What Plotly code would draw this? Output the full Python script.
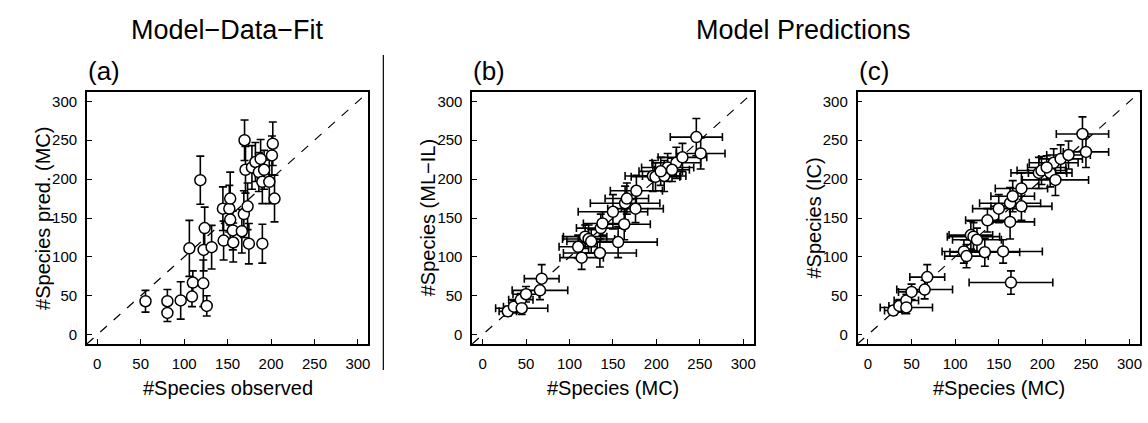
import plotly.graph_objects as go

# ---------------- data ----------------
# Panel (a): observed vs MC prediction (with y uncertainty)
a_obs = [55.5, 80.7, 80.7, 96, 109, 110, 106, 122, 126, 118.6, 123.6, 122.4, 131.6, 145.4,
         144.6, 152, 153, 153, 156, 156.5, 166.4, 168.7, 173, 169.5, 170.6, 174.5, 178, 182,
         186, 190, 190, 192, 198, 201, 202, 204, 188]
a_pred = [43, 43, 28, 44, 49, 67, 111, 66, 37, 198.6, 137, 109, 112.5, 121,
          162, 162, 175, 148, 134, 118.5, 133, 155, 165, 250, 212, 117, 215, 222,
          209, 196.5, 117, 212, 196.5, 230.5, 245.5, 175, 226]
a_err = [14, 15, 11, 24, 13, 15, 36, 30, 13, 31, 27, 27, 28, 25,
         28, 30, 34, 25, 25, 25, 28, 30, 30, 26, 30, 26, 28, 25,
         25, 28, 25, 25, 28, 25, 28, 30, 25]

# Panel (b): MC vs ML-IL
b_mc = [29, 36, 44, 45, 50, 66, 68, 110, 114, 118, 122, 135, 136, 138, 150, 156, 163, 164,
        166, 176, 177, 196, 199, 209, 213, 223, 230, 246, 251, 205, 218, 125]
b_ml = [30, 36, 45, 34, 52, 57, 72, 113, 99, 126, 123, 105, 137, 143, 158, 119, 142, 169,
        175, 162, 185, 204, 203, 204, 215, 221, 228, 254, 233, 210, 212, 120]
b_ex = [10, 12, 14, 30, 15, 32, 20, 22, 25, 25, 30, 42, 28, 22, 40, 45, 30, 40,
        25, 32, 30, 32, 28, 25, 30, 28, 28, 30, 28, 25, 20, 28]
b_ey = [6, 8, 8, 8, 10, 12, 18, 15, 15, 15, 18, 18, 18, 15, 22, 20, 20, 22,
        20, 18, 20, 20, 18, 20, 18, 20, 18, 24, 20, 18, 15, 15]

# Panel (c): MC vs IC
c_mc = [29, 36, 44, 44, 50, 65, 68, 110, 113, 118, 121, 134, 137, 150, 155, 163, 164, 163,
        166, 176, 176, 196, 199, 209, 215, 213, 221, 230, 246, 250, 125, 205]
c_ic = [31, 37, 44, 35, 55, 58, 74, 107, 101, 128, 126, 106, 147, 162, 107, 145, 67, 169,
        178, 165, 188, 208, 211, 208, 199, 221, 226, 231, 258, 235, 122, 215]
c_ex = [10, 12, 14, 30, 15, 32, 20, 25, 25, 25, 30, 40, 25, 30, 45, 28, 48, 35,
        25, 35, 30, 32, 28, 25, 38, 28, 25, 25, 30, 26, 28, 22]
c_ey = [6, 8, 8, 8, 10, 12, 16, 15, 15, 18, 18, 18, 15, 18, 15, 22, 15, 20,
        20, 18, 20, 20, 18, 18, 20, 18, 18, 18, 22, 20, 15, 15]

tick_vals = [0, 50, 100, 150, 200, 250, 300]
axis_range = [-12, 312]

titles_top = ["Model\u2212Data\u2212Fit", "Model Predictions"]
panel_labels = ["(a)", "(b)", "(c)"]
x_titles = ["#Species observed", "#Species (MC)", "#Species (MC)"]
y_titles = ["#Species pred. (MC)", "#Species (ML\u2212IL)", "#Species (IC)"]

# ---------------- figure ----------------
W, H = 1148, 423
FONT = "Liberation Sans, Arial, Helvetica, sans-serif"
box_px = [(87, 369), (473, 755), (859, 1142)]
top_px, bot_px = 92, 344

fig = go.Figure()

marker = dict(size=11, color="white", line=dict(color="black", width=1.5))
err_style = dict(type="data", color="black", thickness=1.6, width=4, visible=True)

panels = [
    (a_obs, a_pred, None, a_err),
    (b_mc, b_ml, b_ex, b_ey),
    (c_mc, c_ic, c_ex, c_ey),
]

for i, (xs, ys, ex, ey) in enumerate(panels):
    xa = "x" if i == 0 else f"x{i+1}"
    ya = "y" if i == 0 else f"y{i+1}"
    # identity line
    fig.add_trace(go.Scatter(x=axis_range, y=axis_range, mode="lines",
                             line=dict(color="black", width=1.2, dash="dash"),
                             xaxis=xa, yaxis=ya, showlegend=False, hoverinfo="skip"))
    kw = dict(error_y=dict(array=ey, **err_style))
    if ex is not None:
        kw["error_x"] = dict(array=ex, **err_style)
    fig.add_trace(go.Scatter(x=xs, y=ys, mode="markers", marker=marker,
                             xaxis=xa, yaxis=ya, showlegend=False, **kw))

axis_common = dict(range=axis_range, tickvals=tick_vals, ticks="inside", ticklen=5,
                   tickwidth=1.2, tickcolor="black", showline=True, linecolor="black",
                   linewidth=1.5, mirror=True, showgrid=False, zeroline=False,
                   tickfont=dict(family=FONT, size=15, color="black"))

layout = dict(width=W, height=H, margin=dict(l=0, r=0, t=0, b=0),
              plot_bgcolor="white", paper_bgcolor="white",
              font=dict(family=FONT, color="black"))
ydom = [1 - bot_px / H, 1 - top_px / H]
for i, (l, r) in enumerate(box_px):
    sx = "" if i == 0 else str(i + 1)
    layout[f"xaxis{sx}"] = dict(domain=[l / W, r / W], anchor=f"y{sx}",
                                ticklabelstandoff=5, **axis_common)
    layout[f"yaxis{sx}"] = dict(domain=ydom, anchor=f"x{sx}",
                                ticklabelstandoff=5, **axis_common)
fig.update_layout(**layout)

ann = []
# top titles
ann.append(dict(text=titles_top[0], x=228 / W, y=1 - 30 / H, xref="paper", yref="paper",
                xanchor="center", yanchor="middle", showarrow=False,
                font=dict(family=FONT, size=27)))
ann.append(dict(text=titles_top[1], x=805 / W, y=1 - 30 / H, xref="paper", yref="paper",
                xanchor="center", yanchor="middle", showarrow=False,
                font=dict(family=FONT, size=27)))
ytitle_x = [43, 429, 815]
for i, (l, r) in enumerate(box_px):
    ann.append(dict(text=panel_labels[i], x=(l - 1) / W, y=1 - 71 / H, xref="paper", yref="paper",
                    xanchor="left", yanchor="middle", showarrow=False,
                    font=dict(family=FONT, size=26)))
    ann.append(dict(text=x_titles[i], x=(l + r) / 2 / W, y=1 - 388 / H, xref="paper",
                    yref="paper", xanchor="center", yanchor="middle", showarrow=False,
                    font=dict(family=FONT, size=20)))
    ann.append(dict(text=y_titles[i], x=ytitle_x[i] / W, y=1 - (top_px + bot_px) / 2 / H,
                    xref="paper", yref="paper", xanchor="center", yanchor="middle",
                    textangle=-90, showarrow=False, font=dict(family=FONT, size=20)))
fig.update_layout(annotations=ann)

# separator line between the two groups
fig.add_shape(type="line", xref="paper", yref="paper", x0=384 / W, x1=384 / W,
              y0=1 - 370 / H, y1=1 - 55 / H, line=dict(color="black", width=1.2))

fig.write_html("out.html")
